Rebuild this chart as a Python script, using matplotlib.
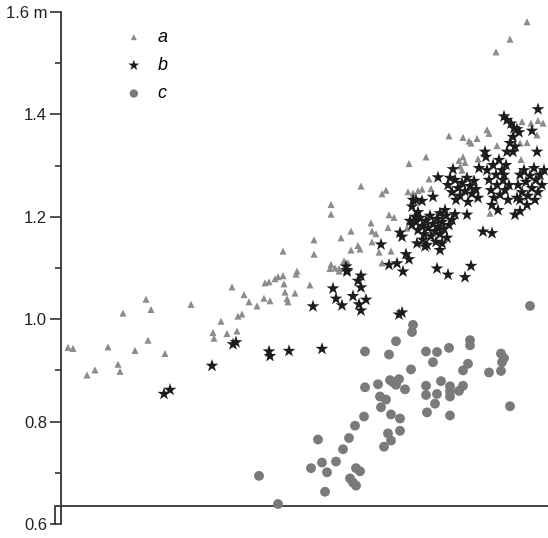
import matplotlib
matplotlib.use("Agg")
import matplotlib.pyplot as plt
from matplotlib.lines import Line2D
from matplotlib.ticker import FixedLocator, FixedFormatter, MultipleLocator

plt.rcParams['font.family'] = ['Liberation Sans', 'DejaVu Sans']

# ---- data (x: arbitrary units, y: metres) ----
a_x = [7, 12, 26, 34, 47, 57, 59, 62, 74, 85,
       90, 87, 104, 130, 152, 153, 160, 166, 171, 176,
       177, 181, 183, 188, 196, 203, 204, 208, 209, 214,
       217, 222, 222, 223, 224, 226, 227, 234, 235, 236,
       249, 253, 253, 270, 269, 274, 278, 283, 287, 278,
       270, 270, 280, 290, 290, 297, 299, 300, 310, 311,
       315, 311, 318, 321, 321, 325, 327, 328, 333, 330,
       348, 347, 352, 357, 361, 365, 368, 370, 388, 402,
       408, 410, 416, 426, 428, 398, 402, 404, 399, 401,
       417, 436, 429, 459, 466, 460, 461, 470, 477, 482,
       476, 466, 449, 435, 346]
a_y = [0.945, 0.943, 0.891, 0.901, 0.946, 0.912, 0.898, 1.012, 0.939, 1.039,
       1.019, 0.959, 0.933, 1.029, 0.974, 0.963, 0.996, 0.972, 1.063, 0.977,
       1.006, 1.010, 1.048, 1.034, 1.026, 1.041, 1.071, 1.073, 1.036, 1.079,
       1.083, 1.085, 1.133, 1.069, 1.053, 1.040, 1.034, 1.051, 1.088, 1.094,
       1.067, 1.155, 1.127, 1.107, 1.099, 1.100, 1.099, 1.114, 1.110, 1.094,
       1.224, 1.205, 1.159, 1.135, 1.172, 1.144, 1.137, 1.260, 1.188, 1.172,
       1.167, 1.151, 1.131, 1.110, 1.245, 1.252, 1.179, 1.204, 1.199, 1.133,
       1.304, 1.249, 1.246, 1.251, 1.254, 1.317, 1.274, 1.255, 1.358, 1.355,
       1.348, 1.344, 1.353, 1.370, 1.363, 1.310, 1.317, 1.306, 1.299, 1.291,
       1.313, 1.339, 1.207, 1.344, 1.345, 1.312, 1.386, 1.383, 1.388, 1.383,
       1.360, 1.581, 1.547, 1.522, 1.178]

b_x = [103, 109, 151, 172, 175, 208, 209, 228, 261, 338,
       341, 252, 281, 298, 300, 305, 292, 275, 272, 300,
       297, 300, 286, 285, 328, 336, 342, 376, 387, 404,
       410, 320, 345, 348, 339, 341, 356, 364, 381, 379,
       422, 431, 406, 454, 459, 477, 443, 446, 450, 453,
       456, 458, 452, 471, 476, 449, 454, 452, 446, 424,
       425, 418, 392, 377, 372, 352, 351, 355, 361, 349,
       354, 286,
       351, 355, 357, 359, 361, 363, 365, 367, 369, 370,
       372, 374, 376, 377, 379, 381, 383, 385, 386, 388,
       362, 366, 375, 357, 384, 379, 391, 394,
       387, 391, 394, 397, 399, 401, 404, 406, 409, 411,
       413, 415, 417, 395, 407, 389,
       426, 428, 430, 432, 433, 435, 436, 438, 439, 441,
       442, 444, 445, 447, 431, 437, 443, 448,
       457, 459, 461, 463, 465, 467, 469, 471, 473, 475,
       477, 479, 481, 483, 466, 459, 474, 456]
b_y = [0.854, 0.862, 0.909, 0.951, 0.955, 0.937, 0.928, 0.938, 0.942, 1.009,
       1.013, 1.025, 1.027, 1.029, 1.017, 1.038, 1.045, 1.040, 1.060, 1.062,
       1.075, 1.085, 1.096, 1.103, 1.106, 1.109, 1.093, 1.099, 1.087, 1.082,
       1.104, 1.146, 1.127, 1.117, 1.169, 1.161, 1.148, 1.142, 1.148, 1.135,
       1.171, 1.168, 1.204, 1.204, 1.233, 1.410, 1.396, 1.389, 1.382, 1.373,
       1.371, 1.365, 1.356, 1.368, 1.327, 1.344, 1.337, 1.327, 1.327, 1.327,
       1.317, 1.295, 1.293, 1.277, 1.239, 1.233, 1.220, 1.233, 1.231, 1.192,
       1.200, 1.093,
       1.184, 1.190, 1.174, 1.198, 1.182, 1.166, 1.192, 1.178, 1.202, 1.162,
       1.186, 1.172, 1.196, 1.180, 1.166, 1.190, 1.176, 1.202, 1.159, 1.184,
       1.155, 1.145, 1.151, 1.209, 1.213, 1.207, 1.194, 1.205,
       1.262, 1.248, 1.272, 1.256, 1.241, 1.266, 1.250, 1.276, 1.260, 1.245,
       1.270, 1.254, 1.237, 1.233, 1.229, 1.276,
       1.291, 1.272, 1.252, 1.301, 1.237, 1.282, 1.262, 1.311, 1.243, 1.291,
       1.272, 1.252, 1.301, 1.233, 1.223, 1.213, 1.282, 1.262,
       1.262, 1.282, 1.248, 1.291, 1.268, 1.241, 1.280, 1.256, 1.295, 1.272,
       1.248, 1.282, 1.262, 1.291, 1.223, 1.211, 1.233, 1.237]

c_x = [469, 352, 351, 335, 304, 328, 365, 376, 388, 409,
       409, 372, 350, 407, 402, 440, 443, 441, 440, 428,
       304, 317, 329, 338, 335, 332, 344, 365, 380, 389,
       389, 389, 398, 402, 365, 376, 319, 325, 320, 374,
       449, 330, 339, 366, 389, 303, 294, 339, 327, 330,
       323, 288, 257, 282, 275, 261, 250, 266, 295, 299,
       289, 292, 295, 264, 217, 198]
c_y = [1.026, 0.989, 0.975, 0.957, 0.937, 0.931, 0.937, 0.936, 0.944, 0.959,
       0.949, 0.916, 0.902, 0.913, 0.900, 0.933, 0.924, 0.916, 0.899, 0.896,
       0.867, 0.873, 0.881, 0.883, 0.872, 0.877, 0.863, 0.870, 0.879, 0.869,
       0.859, 0.849, 0.860, 0.870, 0.852, 0.854, 0.849, 0.843, 0.828, 0.835,
       0.830, 0.814, 0.806, 0.818, 0.812, 0.810, 0.792, 0.782, 0.777, 0.763,
       0.751, 0.768, 0.765, 0.746, 0.722, 0.720, 0.709, 0.701, 0.709, 0.703,
       0.689, 0.681, 0.675, 0.663, 0.639, 0.694]

labels = ['a', 'b', 'c']
ytick_vals = [0.6, 0.8, 1.0, 1.2, 1.4, 1.6]
ytick_labels = ['0.6', '0.8', '1.0', '1.2', '1.4', '1.6 m']
x_axis_level = 0.635

# ---- figure ----
W, H = 548, 538
fig = plt.figure(figsize=(W / 100, H / 100), dpi=100)
ax = fig.add_axes([61 / W, 14 / H, 487 / W, 512 / H])

ax.scatter(a_x, a_y, marker='^', s=26, color='#8c8c8c', edgecolors='none',
           clip_on=False, zorder=2, label=labels[0])
ax.scatter(b_x, b_y, marker='*', s=95, color='#1c1c1c', edgecolors='none',
           clip_on=False, zorder=3, label=labels[1])
ax.scatter(c_x, c_y, marker='o', s=50, color='#7a7a7a', edgecolors='none',
           clip_on=False, zorder=2, label=labels[2])

ax.set_xlim(0, 487)
ax.set_ylim(0.6, 1.6)

for side in ['top', 'right', 'bottom']:
    ax.spines[side].set_visible(False)
ax.spines['left'].set_color('#333333')
ax.spines['left'].set_linewidth(1.3)

ax.set_xticks([])
ax.yaxis.set_major_locator(FixedLocator(ytick_vals))
ax.yaxis.set_major_formatter(FixedFormatter(ytick_labels))
ax.yaxis.set_minor_locator(MultipleLocator(0.1))
ax.tick_params(axis='y', which='major', length=8, width=1.2, color='#333333',
               labelsize=12, labelcolor='#222222', pad=2)
ax.tick_params(axis='y', which='minor', length=4, width=1.2, color='#333333')

# horizontal base line with its small step down to the 0.6 tick
trans = ax.get_yaxis_transform()  # x in axes fraction, y in data
ax.add_line(Line2D([-0.0117, -0.0117, 1.0], [0.6, x_axis_level, x_axis_level],
                   transform=trans, color='#444444', linewidth=1.4,
                   clip_on=False, zorder=1))

leg = ax.legend(loc='upper left', bbox_to_anchor=(0.131, 0.967),
                frameon=False, handlelength=1.0, handletextpad=0.8,
                labelspacing=0.62, borderpad=0, borderaxespad=0,
                prop={'style': 'italic', 'size': 13}, scatterpoints=1,
                markerscale=0.85)

fig.savefig('out.png', dpi=100)
